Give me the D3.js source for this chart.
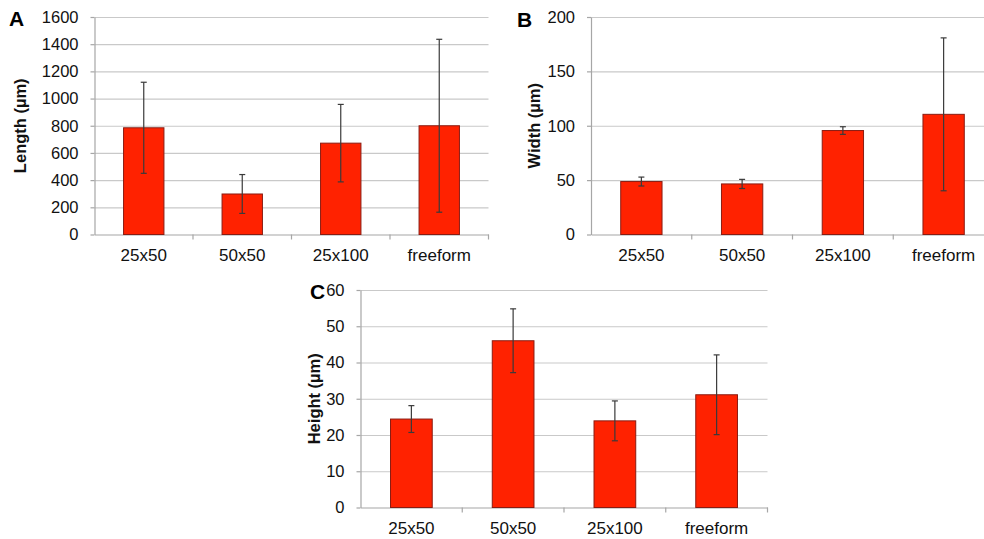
<!DOCTYPE html>
<html>
<head>
<meta charset="utf-8">
<script src="https://cdn.jsdelivr.net/npm/d3@7/dist/d3.min.js"></script>
<style>
  html, body { margin: 0; padding: 0; background: #fff; }
  svg { display: block; font-family: "Liberation Sans", Arial, Helvetica, sans-serif; }
</style>
</head>
<body>
<svg id="chart" width="984" height="539"></svg>
<script>
// ---- data ----
const categories = ["25x50", "50x50", "25x100", "freeform"];

const lengthMeans  = [785, 298, 672, 800];
const lengthErrors = [335, 143, 285, 636];
const lengthTicks  = [0, 200, 400, 600, 800, 1000, 1200, 1400, 1600];

const widthMeans  = [48.7, 46.5, 95.6, 110.5];
const widthErrors = [4.1, 4.2, 3.5, 70.3];
const widthTicks  = [0, 50, 100, 150, 200];

const heightMeans  = [24.4, 46.0, 23.9, 31.1];
const heightErrors = [3.7, 8.8, 5.5, 11.0];
const heightTicks  = [0, 10, 20, 30, 40, 50, 60];

const panelLetters = ["A", "B", "C"];
const axisTitles = ["Length (\u00b5m)", "Width (\u00b5m)", "Height (\u00b5m)"];

// ---- layout ----
const panels = [
  { letter: panelLetters[0], title: axisTitles[0], means: lengthMeans, errors: lengthErrors, ticks: lengthTicks,
    left: 94.5, right: 488.5, top: 17, bottom: 234.5, letterX: 9, letterY: 26, titleX: 26 },
  { letter: panelLetters[1], title: axisTitles[1], means: widthMeans, errors: widthErrors, ticks: widthTicks,
    left: 591, right: 994, top: 17, bottom: 234.5, letterX: 517, letterY: 27, titleX: 540 },
  { letter: panelLetters[2], title: axisTitles[2], means: heightMeans, errors: heightErrors, ticks: heightTicks,
    left: 360.5, right: 767.5, top: 290, bottom: 507.5, letterX: 310, letterY: 299, titleX: 320 }
];

const svg = d3.select("#chart");
const barFill = "#ff2200";
const barStroke = "#8a1c12";
const gridColor = "#c9c9c9";
const axisColor = "#a6a6a6";
const errColor = "#3a3a3a";

panels.forEach(p => {
  const g = svg.append("g");
  const x = d3.scaleBand().domain(categories).range([p.left, p.right])
    .paddingInner(0.59).paddingOuter(0.295);
  const y = d3.scaleLinear().domain([p.ticks[0], p.ticks[p.ticks.length - 1]]).range([p.bottom, p.top]);
  const step = x.step();
  const pw = p.right - p.left;

  // gridlines
  const grid = g.append("g").attr("transform", `translate(${p.left},0)`)
    .call(d3.axisLeft(y).tickValues(p.ticks.slice(1)).tickSize(-pw).tickFormat(""));
  grid.select(".domain").remove();
  grid.selectAll("line").attr("stroke", gridColor).attr("stroke-width", 1.2);

  // y axis
  const ya = g.append("g").attr("transform", `translate(${p.left},0)`)
    .call(d3.axisLeft(y).tickValues(p.ticks).tickFormat(d3.format("d"))
      .tickSize(4).tickPadding(12).tickSizeOuter(0));
  ya.select(".domain").attr("stroke", axisColor).attr("stroke-width", 1.2);
  ya.selectAll(".tick line").attr("stroke", axisColor).attr("stroke-width", 1.2);
  ya.selectAll(".tick text").attr("fill", "#111").style("font-size", "16.5px")
    .style("font-family", "\"Liberation Sans\", Arial, sans-serif");

  // x axis
  const xa = g.append("g").attr("transform", `translate(0,${p.bottom})`)
    .call(d3.axisBottom(x).tickSize(0).tickPadding(10).tickSizeOuter(0));
  xa.select(".domain").attr("stroke", axisColor).attr("stroke-width", 1.2);
  xa.selectAll(".tick text").attr("fill", "#111").style("font-size", "17px")
    .style("font-family", "\"Liberation Sans\", Arial, sans-serif")
    .attr("dy", "0.95em");
  // boundary ticks
  g.append("g").selectAll("line").data(categories).join("line")
    .attr("x1", d => x(d) - step * 0.295 + step)
    .attr("x2", d => x(d) - step * 0.295 + step)
    .attr("y1", p.bottom).attr("y2", p.bottom + 5)
    .attr("stroke", axisColor).attr("stroke-width", 1.2);

  // bars
  g.append("g").selectAll("rect").data(categories).join("rect")
    .attr("x", d => x(d))
    .attr("width", x.bandwidth())
    .attr("y", (d, i) => y(p.means[i]))
    .attr("height", (d, i) => y(0) - y(p.means[i]))
    .attr("fill", barFill)
    .attr("stroke", barStroke)
    .attr("stroke-width", 1);

  // error bars
  const eg = g.append("g").attr("stroke", errColor).attr("stroke-width", 1.2);
  categories.forEach((c, i) => {
    const cx = x(c) + x.bandwidth() / 2;
    const hi = y(p.means[i] + p.errors[i]);
    const lo = y(p.means[i] - p.errors[i]);
    eg.append("line").attr("x1", cx).attr("x2", cx).attr("y1", hi).attr("y2", lo);
    eg.append("line").attr("x1", cx - 3).attr("x2", cx + 3).attr("y1", hi).attr("y2", hi);
    eg.append("line").attr("x1", cx - 3).attr("x2", cx + 3).attr("y1", lo).attr("y2", lo);
  });

  // axis title
  g.append("text")
    .attr("transform", `translate(${p.titleX},${(p.top + p.bottom) / 2}) rotate(-90)`)
    .attr("text-anchor", "middle")
    .style("font-size", "16.5px").style("font-weight", "bold")
    .attr("fill", "#111")
    .text(p.title);

  // panel letter
  g.append("text")
    .attr("x", p.letterX).attr("y", p.letterY)
    .style("font-size", "21px").style("font-weight", "bold")
    .attr("fill", "#000")
    .text(p.letter);
});
</script>
</body>
</html>
